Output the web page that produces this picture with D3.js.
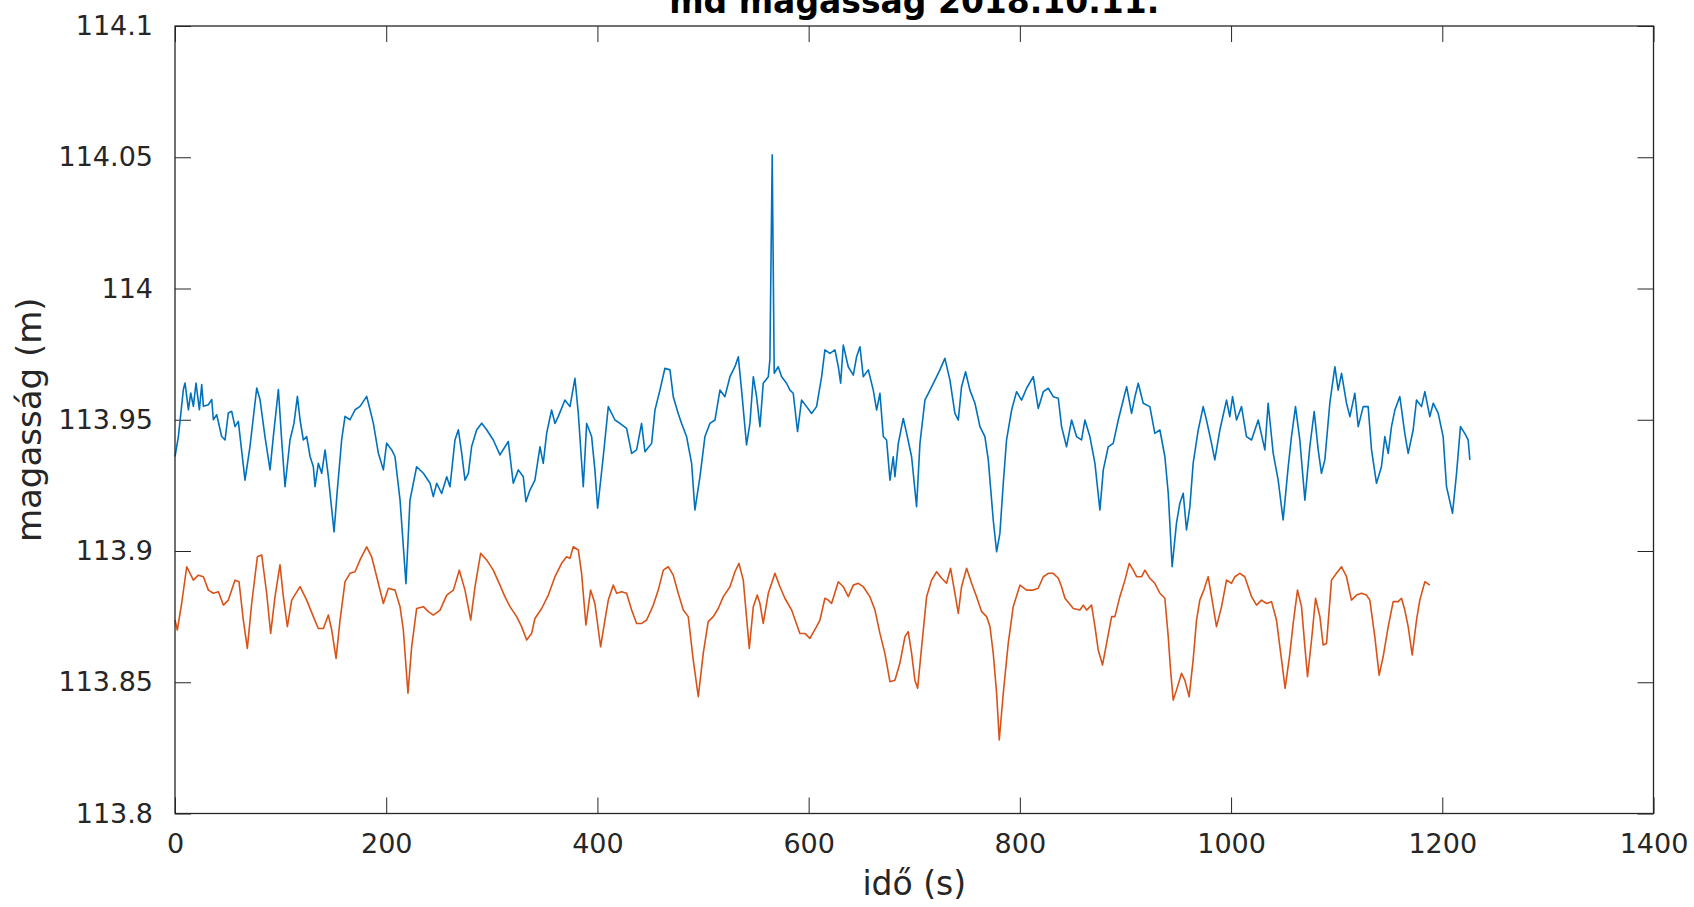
<!DOCTYPE html>
<html>
<head>
<meta charset="utf-8">
<script src="https://cdn.jsdelivr.net/npm/d3@7"></script>
<style>
  html, body { margin: 0; padding: 0; background: #fff; }
  svg { display: block; }
</style>
</head>
<body>
<svg id="svg" width="1694" height="907"></svg>
<script>
const width = 1694;
const height = 907;
const blueColor = '#0072BD';
const orangeColor = '#D95319';
const axisColor = '#262626';
const lineWidth = 1.6;
const tickSize = 16;
const fontFamily = 'DejaVu Sans, sans-serif';
let xScale;
let yScale;

const paddings = {
	left: 175,
	top: 26,
	right: 40.5,
	bottom: 93.5
};

const titleText = 'md magasság 2018.10.11.';
const xLabel = 'idő (s)';
const yLabel = 'magasság (m)';

const xDomain = [0, 1400];
const yDomain = [113.8, 114.1];
const xTicks = [0, 200, 400, 600, 800, 1000, 1200, 1400];
const yTicks = [113.8, 113.85, 113.9, 113.95, 114, 114.05, 114.1];
const yTickLabels = ['113.8', '113.85', '113.9', '113.95', '114', '114.05', '114.1'];

// [idő (s), magasság (m)]
const blueSeries = [
	[0.0,113.936],[3.2,113.9436],[7.9,113.9615],[9.5,113.964],[12.7,113.9538],[14.9,113.9602],[17.4,113.9551],
	[19.9,113.964],[23.1,113.9538],[25.3,113.9634],[26.9,113.9551],[31.6,113.9557],[34.8,113.9577],[36.3,113.95],
	[39.5,113.9519],[44.2,113.9436],[47.4,113.9423],[50.5,113.9526],[53.7,113.9532],[56.8,113.9474],[60.0,113.9494],
	[61.6,113.9436],[66.3,113.927],[71.0,113.9398],[77.4,113.9621],[80.5,113.9577],[85.2,113.9436],[90.0,113.9309],
	[93.1,113.9436],[97.9,113.9615],[101.0,113.9423],[104.2,113.9245],[108.9,113.9423],[112.7,113.9487],[115.9,113.9589],
	[118.4,113.95],[121.5,113.9423],[124.7,113.9436],[127.9,113.936],[131.0,113.9321],[132.6,113.9245],[135.7,113.9334],
	[138.9,113.9296],[142.1,113.9385],[145.2,113.9283],[150.6,113.9073],[153.7,113.9232],[157.8,113.9423],[161.0,113.9513],
	[165.7,113.95],[170.5,113.9538],[175.2,113.9551],[181.5,113.9589],[184.7,113.9538],[187.8,113.9487],[192.6,113.9372],
	[197.3,113.9309],[200.4,113.9411],[205.2,113.9385],[208.3,113.936],[213.1,113.9194],[218.7,113.8875],[222.5,113.9194],
	[228.8,113.9321],[235.2,113.9296],[241.5,113.9258],[244.6,113.9207],[247.8,113.9258],[252.5,113.9219],[257.3,113.9283],
	[260.4,113.9245],[265.1,113.9423],[268.3,113.9462],[271.5,113.9372],[274.6,113.927],[277.8,113.9296],[280.9,113.9398],
	[285.7,113.9462],[290.4,113.9487],[295.1,113.9462],[301.4,113.9423],[307.7,113.9366],[315.6,113.9417],[320.3,113.9258],
	[325.1,113.9309],[329.8,113.9283],[332.3,113.9188],[336.1,113.9232],[340.8,113.927],[345.6,113.9397],[348.7,113.9334],
	[351.9,113.9448],[356.6,113.9537],[359.8,113.9486],[362.9,113.9512],[369.2,113.9575],[374.0,113.955],[378.7,113.9658],
	[381.9,113.9524],[386.6,113.9245],[389.8,113.9486],[394.5,113.9436],[397.6,113.9309],[400.2,113.9163],[405.5,113.9359],
	[410.3,113.955],[416.6,113.9499],[421.3,113.9486],[427.6,113.9467],[432.4,113.9372],[437.1,113.9385],[441.8,113.9486],
	[445.0,113.9378],[451.3,113.941],[454.5,113.9537],[459.2,113.9613],[463.9,113.9696],[468.7,113.969],[471.8,113.9588],
	[476.5,113.9524],[479.7,113.9486],[484.4,113.9436],[489.2,113.9334],[492.3,113.9156],[497.1,113.9283],[501.8,113.9436],
	[506.5,113.9486],[511.3,113.9499],[516.0,113.9613],[520.7,113.9588],[525.5,113.9664],[530.2,113.9702],[533.4,113.974],
	[536.5,113.9613],[541.2,113.9404],[544.4,113.9486],[547.6,113.9664],[550.7,113.9588],[553.9,113.9474],[557.0,113.9639],
	[561.8,113.9664],[563.3,113.9728],[565.5,114.0509],[567.4,113.9677],[571.2,113.9702],[574.4,113.9664],[579.1,113.9639],
	[582.3,113.9613],[585.4,113.9601],[589.5,113.9455],[593.3,113.9575],[598.1,113.955],[602.8,113.9524],[607.5,113.955],
	[612.3,113.9664],[615.4,113.9766],[620.2,113.9753],[624.9,113.9766],[628.1,113.9702],[630.3,113.9639],[632.8,113.9785],
	[637.5,113.9702],[642.3,113.967],[645.4,113.974],[648.6,113.9778],[651.7,113.9664],[656.5,113.969],[661.2,113.9613],
	[664.4,113.9537],[667.5,113.9601],[670.7,113.9436],[673.8,113.9423],[677.0,113.927],[680.1,113.9359],[681.7,113.9283],
	[684.9,113.941],[689.6,113.9505],[692.8,113.9448],[697.5,113.9359],[702.2,113.9169],[705.4,113.941],[710.1,113.9575],
	[714.9,113.9613],[719.6,113.9651],[724.3,113.969],[729.0,113.9734],[733.8,113.9651],[738.5,113.9524],[741.7,113.9499],
	[744.8,113.9626],[748.6,113.9683],[752.7,113.9613],[757.5,113.9563],[762.2,113.9474],[766.9,113.9436],[770.1,113.9347],
	[774.8,113.9118],[778.0,113.8997],[781.1,113.9067],[784.3,113.9258],[787.4,113.9423],[792.2,113.9537],[796.9,113.9607],
	[801.6,113.9575],[806.4,113.962],[812.7,113.9664],[817.4,113.9543],[822.2,113.9607],[826.9,113.962],[831.6,113.9588],
	[836.4,113.9582],[839.5,113.9474],[844.2,113.9397],[849.0,113.9499],[853.7,113.9436],[858.4,113.9423],[861.6,113.9499],
	[866.3,113.9436],[871.1,113.9334],[875.8,113.9156],[879.0,113.9309],[883.7,113.9397],[888.4,113.941],[893.2,113.9499],
	[897.9,113.9575],[901.1,113.9626],[905.8,113.9524],[909.0,113.9588],[912.1,113.9639],[916.8,113.9563],[923.1,113.955],
	[927.8,113.9448],[932.6,113.9461],[937.3,113.936],[940.5,113.922],[944.2,113.894],[948.3,113.9106],[951.5,113.9182],
	[954.7,113.922],[957.8,113.908],[961.0,113.9169],[964.1,113.9334],[968.9,113.9461],[973.6,113.955],[976.7,113.9499],
	[981.5,113.941],[984.6,113.9347],[989.4,113.9461],[995.7,113.9575],[998.8,113.9512],[1001.4,113.9588],[1005.2,113.9499],
	[1009.9,113.955],[1014.6,113.9436],[1019.4,113.9423],[1025.7,113.9499],[1032.0,113.9385],[1035.1,113.9563],[1039.9,113.9372],
	[1044.6,113.927],[1049.3,113.9118],[1054.1,113.9321],[1057.2,113.9436],[1061.0,113.955],[1065.1,113.9423],[1069.9,113.9194],
	[1074.6,113.9398],[1078.7,113.9531],[1082.5,113.9385],[1085.6,113.9296],[1088.8,113.9347],[1093.5,113.9563],[1098.3,113.9702],
	[1101.4,113.9613],[1104.6,113.9677],[1109.3,113.9563],[1112.5,113.9512],[1117.2,113.9601],[1120.4,113.9474],[1125.1,113.955],
	[1129.8,113.955],[1133.0,113.9385],[1137.7,113.9258],[1142.4,113.9321],[1145.6,113.9436],[1148.8,113.9372],[1151.9,113.9474],
	[1155.1,113.9537],[1159.8,113.9588],[1164.5,113.9448],[1167.7,113.9372],[1172.4,113.9461],[1175.6,113.9575],[1180.3,113.955],
	[1183.5,113.9607],[1188.2,113.9512],[1191.4,113.9563],[1196.1,113.9525],[1200.8,113.9436],[1204.0,113.9245],[1209.7,113.9144],
	[1213.5,113.9296],[1217.2,113.9474],[1221.3,113.9448],[1224.5,113.9423],[1226.1,113.9347]
];

const orangeSeries = [
	[0.0,113.8737],[2.2,113.8699],[6.3,113.88],[11.1,113.894],[17.4,113.8889],[22.1,113.8908],[26.9,113.8902],
	[31.6,113.8851],[36.3,113.8839],[41.1,113.8845],[45.8,113.8794],[50.5,113.8813],[56.8,113.8889],[60.6,113.8883],
	[64.7,113.8737],[68.5,113.8629],[72.6,113.88],[78.0,113.8978],[82.1,113.8985],[86.8,113.8839],[90.6,113.8686],
	[94.7,113.8826],[99.4,113.8947],[102.6,113.8826],[106.4,113.8712],[110.5,113.8813],[118.4,113.8864],[124.7,113.8813],
	[131.0,113.875],[135.7,113.8705],[140.5,113.8705],[145.2,113.8756],[148.4,113.8699],[152.5,113.8591],[156.3,113.8737],
	[161.0,113.8883],[165.7,113.8915],[170.5,113.8921],[175.2,113.8966],[181.5,113.9016],[186.2,113.8978],[191.0,113.8902],
	[197.3,113.88],[202.0,113.8858],[208.3,113.8851],[213.1,113.8788],[216.2,113.8699],[220.6,113.8458],[224.1,113.8635],
	[228.8,113.8781],[235.2,113.8788],[239.9,113.8769],[244.6,113.8756],[251.0,113.8775],[257.3,113.8832],[263.6,113.8851],
	[269.2,113.8927],[274.6,113.8851],[280.0,113.8737],[284.1,113.8864],[289.4,113.8991],[295.1,113.8966],[301.4,113.8927],
	[307.7,113.887],[312.4,113.8826],[317.2,113.8788],[323.5,113.875],[328.2,113.8712],[333.0,113.8661],[337.7,113.8686],
	[340.8,113.8743],[347.2,113.8781],[353.5,113.8832],[359.8,113.8902],[366.1,113.8953],[370.8,113.8978],[374.0,113.8972],
	[377.1,113.9016],[381.9,113.9004],[385.0,113.8915],[389.1,113.8718],[393.5,113.8851],[397.6,113.88],[403.0,113.8635],
	[407.1,113.8737],[410.3,113.8813],[415.0,113.887],[418.2,113.8839],[422.9,113.8845],[427.6,113.8839],[432.4,113.8775],
	[437.1,113.8724],[441.8,113.8724],[446.6,113.8737],[452.9,113.8794],[457.6,113.8851],[462.4,113.8927],[467.1,113.894],
	[471.8,113.8908],[476.5,113.8839],[481.3,113.8775],[486.0,113.875],[490.7,113.8585],[495.5,113.8445],[500.2,113.861],
	[504.9,113.8731],[509.7,113.875],[514.4,113.8781],[519.2,113.8826],[525.5,113.8864],[530.2,113.8921],[534.0,113.8953],
	[538.1,113.8889],[543.8,113.8629],[547.6,113.8788],[551.3,113.8832],[553.9,113.88],[557.0,113.8724],[561.8,113.8839],
	[568.1,113.8915],[572.8,113.8864],[577.5,113.882],[583.9,113.8775],[591.7,113.8686],[596.5,113.8686],[601.2,113.8667],
	[607.5,113.8712],[610.7,113.8737],[615.4,113.882],[618.6,113.8813],[621.7,113.88],[628.1,113.8883],[632.8,113.8864],
	[637.5,113.8826],[642.3,113.887],[647.0,113.8877],[651.7,113.8864],[658.0,113.8826],[662.8,113.8775],[667.5,113.8686],
	[672.2,113.861],[677.0,113.8502],[681.7,113.8508],[686.4,113.8572],[691.2,113.8674],[694.3,113.8693],[697.5,113.861],
	[700.6,113.8508],[703.2,113.8477],[707.0,113.8635],[711.7,113.8826],[716.4,113.8889],[721.2,113.8921],[725.9,113.8896],
	[730.6,113.8877],[734.4,113.8934],[738.5,113.8839],[741.7,113.8762],[744.8,113.8864],[749.6,113.8934],[754.3,113.8877],
	[759.0,113.8826],[763.8,113.8769],[768.5,113.875],[771.7,113.8712],[774.8,113.861],[778.0,113.8458],[780.5,113.828],
	[784.3,113.8458],[789.0,113.8648],[793.7,113.8788],[800.1,113.887],[806.4,113.8851],[812.7,113.8851],[817.4,113.8858],
	[822.2,113.8902],[826.9,113.8915],[831.6,113.8915],[836.4,113.8896],[839.5,113.8864],[842.7,113.882],[850.6,113.8781],
	[856.9,113.8775],[860.0,113.8794],[863.2,113.8775],[867.9,113.8794],[871.1,113.8712],[874.2,113.8623],[878.3,113.8566],
	[882.1,113.8648],[886.9,113.875],[890.0,113.875],[894.7,113.8826],[899.5,113.8889],[903.6,113.8953],[907.4,113.8927],
	[910.5,113.8902],[915.3,113.8902],[918.4,113.8927],[923.1,113.8896],[927.8,113.8877],[932.6,113.8839],[937.3,113.882],
	[940.5,113.8674],[942.7,113.8547],[945.2,113.8432],[948.3,113.847],[953.1,113.8534],[956.2,113.8508],[960.3,113.8445],
	[964.1,113.8585],[967.3,113.8737],[970.4,113.8813],[974.2,113.8851],[978.3,113.8902],[981.5,113.8826],[986.2,113.8712],
	[991.0,113.8788],[995.7,113.8889],[1000.4,113.8877],[1003.6,113.8902],[1008.3,113.8915],[1013.0,113.8902],[1016.2,113.8864],
	[1019.4,113.8826],[1024.1,113.8794],[1028.8,113.8813],[1033.6,113.88],[1038.3,113.8807],[1043.0,113.8737],[1047.8,113.8585],
	[1051.2,113.8477],[1055.7,113.861],[1058.8,113.8724],[1062.9,113.8851],[1066.7,113.8788],[1069.9,113.8635],[1072.4,113.8521],
	[1076.2,113.8661],[1080.0,113.882],[1084.1,113.875],[1087.2,113.8642],[1090.4,113.8648],[1095.1,113.8889],[1099.8,113.8915],
	[1104.6,113.894],[1109.3,113.8902],[1114.0,113.8813],[1118.8,113.8832],[1123.5,113.8839],[1128.2,113.8832],[1131.4,113.8813],
	[1136.1,113.8674],[1140.2,113.8527],[1144.0,113.8597],[1148.8,113.8712],[1153.5,113.8807],[1158.2,113.8807],[1161.4,113.882],
	[1164.5,113.8775],[1167.7,113.8712],[1171.5,113.8604],[1175.6,113.8737],[1178.7,113.8813],[1183.5,113.8883],[1188.2,113.887]
];


const svg = d3.select('#svg');
generateAxis();
renderData();
drawBox();
drawTexts();


function generateAxis() {
	xScale = d3.scaleLinear()
	                .domain(xDomain)
	                .range([paddings.left, width - paddings.right]);

	yScale = d3.scaleLinear()
	                .domain(yDomain)
	                .range([height - paddings.bottom, paddings.top]);

	const xAxis = d3.axisBottom(xScale)
	                .tickValues(xTicks)
	                .tickFormat(d3.format('d'))
	                .tickSizeInner(-tickSize)
	                .tickSizeOuter(0)
	                .tickPadding(20);

	const yAxis = d3.axisLeft(yScale)
	                .tickValues(yTicks)
	                .tickFormat((d, i) => yTickLabels[i])
	                .tickSizeInner(-tickSize)
	                .tickSizeOuter(0)
	                .tickPadding(22);

	const xAxisTop = d3.axisTop(xScale)
	                .tickValues(xTicks)
	                .tickFormat('')
	                .tickSizeInner(-tickSize)
	                .tickSizeOuter(0);

	const yAxisRight = d3.axisRight(yScale)
	                .tickValues(yTicks)
	                .tickFormat('')
	                .tickSizeInner(-tickSize)
	                .tickSizeOuter(0);

	svg.append('g')
		  .attr('class', 'x-axis-group')
		  .attr('transform', 'translate(0,' + (height - paddings.bottom) + ')')
		  .call(xAxis);

	svg.append('g')
		  .attr('class', 'y-axis-group')
		  .attr('transform', 'translate(' + paddings.left + ',0)')
		  .call(yAxis);

	svg.append('g')
		  .attr('class', 'x-axis-top')
		  .attr('transform', 'translate(0,' + paddings.top + ')')
		  .call(xAxisTop);

	svg.append('g')
		  .attr('class', 'y-axis-right')
		  .attr('transform', 'translate(' + (width - paddings.right) + ',0)')
		  .call(yAxisRight);

	svg.selectAll('.domain').remove();
	svg.selectAll('.tick line')
		  .attr('stroke', axisColor)
		  .attr('stroke-width', 1);
	svg.selectAll('.tick text')
		  .attr('fill', axisColor)
		  .style('font-family', fontFamily)
		  .style('font-size', '27px');
}

function renderData() {
	const line = d3.line()
			            .x(d => xScale(d[0]))
			            .y(d => yScale(d[1]));

	svg.append('path')
			.attr('d', line(blueSeries))
			.style('fill', 'none')
			.style('stroke', blueColor)
			.style('stroke-width', lineWidth)
			.style('stroke-linejoin', 'round');

	svg.append('path')
			.attr('d', line(orangeSeries))
			.style('fill', 'none')
			.style('stroke', orangeColor)
			.style('stroke-width', lineWidth)
			.style('stroke-linejoin', 'round');
}

function drawBox() {
	svg.append('rect')
		  .attr('x', xScale(xDomain[0]))
		  .attr('y', yScale(yDomain[1]))
		  .attr('width', xScale(xDomain[1]) - xScale(xDomain[0]))
		  .attr('height', yScale(yDomain[0]) - yScale(yDomain[1]))
		  .attr('fill', 'none')
		  .attr('stroke', axisColor)
		  .attr('stroke-width', 1.3);
}

function drawTexts() {
	const midX = (xScale(xDomain[0]) + xScale(xDomain[1])) / 2;
	const midY = (yScale(yDomain[0]) + yScale(yDomain[1])) / 2;

	// the title sits partly above the top edge, as in the original figure
	svg.append('text')
		  .attr('x', midX)
		  .attr('y', 13)
		  .attr('text-anchor', 'middle')
		  .style('font-family', fontFamily)
		  .style('font-weight', 'bold')
		  .style('font-size', '33px')
		  .attr('fill', '#000')
		  .text(titleText);

	svg.append('text')
		  .attr('x', midX)
		  .attr('y', 895)
		  .attr('text-anchor', 'middle')
		  .style('font-family', fontFamily)
		  .style('font-size', '33px')
		  .attr('fill', axisColor)
		  .text(xLabel);

	svg.append('text')
		  .attr('transform', 'translate(41,' + midY + ') rotate(-90)')
		  .attr('text-anchor', 'middle')
		  .style('font-family', fontFamily)
		  .style('font-size', '34px')
		  .attr('fill', axisColor)
		  .text(yLabel);
}
</script>
</body>
</html>
